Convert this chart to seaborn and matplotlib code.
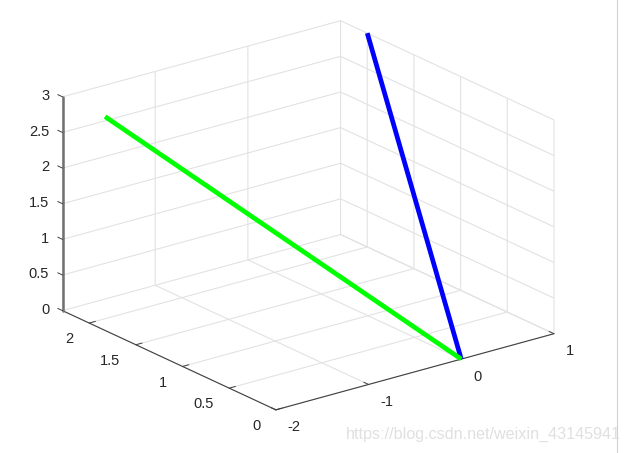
import numpy as np
import matplotlib
matplotlib.use('Agg')
import matplotlib.pyplot as plt
from matplotlib.lines import Line2D
import seaborn as sns

# vectores que salen del origen
blue_x = [0, 1]
blue_y = [0, 2]
blue_z = [0, 3]
green_x = [0, -2]
green_y = [0, 1.83]
green_z = [0, 3]

x_ticks = [-2, -1, 0, 1]
y_ticks = [0, 0.5, 1, 1.5, 2]
z_ticks = [0, 0.5, 1, 1.5, 2, 2.5, 3]
x_labels = ['-2', '-1', '0', '1']
y_labels = ['0', '0.5', '1', '1.5', '2']
z_labels = ['0', '0.5', '1', '1.5', '2', '2.5', '3']
watermark = 'https://blog.csdn.net/weixin_43145941'

sns.set_theme(style='white')
plt.rcParams['font.family'] = ['Liberation Sans', 'DejaVu Sans']

fig = plt.figure(figsize=(6.25, 4.53), dpi=100)
ax = fig.add_axes([-10.4 / 625, 5.1 / 453, 1.0, 1.0], projection='3d')
ax.set_proj_type('ortho')
ax.view_init(elev=20.9, azim=-127.5)
ax.set_box_aspect((1, 1, 0.653), zoom=1.17)

ax.plot(blue_x, blue_y, blue_z, color='#0000ff', linewidth=3.4, solid_capstyle='butt')
ax.plot(green_x, green_y, green_z, color='#00ff00', linewidth=3.4, solid_capstyle='butt')

ax.set_xlim(-2, 1)
ax.set_ylim(0, 2.286)
ax.set_zlim(0, 3)
ax.set_xticks(x_ticks)
ax.set_xticklabels(x_labels, va='center', ha='left')
ax.set_yticks(y_ticks)
ax.set_yticklabels(y_labels, va='center', ha='right')
ax.set_zticks(z_ticks)
ax.set_zticklabels(z_labels, va='center', ha='right')
ax.tick_params(labelsize=10.5, labelcolor='#262626', pad=1.5)
ax.zaxis.set_tick_params(pad=-3.4)

for axis in [ax.xaxis, ax.yaxis, ax.zaxis]:
    axis.set_pane_color((1, 1, 1, 0))
    axis.pane.set_edgecolor('#e2e2e2')
    axis.pane.set_linewidth(0.8)
    axis._axinfo['grid'].update(color='#e2e2e2', linewidth=0.8)
    axis._axinfo['tick'].update(inward_factor=0, outward_factor=0.28,
                                linewidth={True: 0.7, False: 0.4})
    axis.line.set_color('#404040')
    axis.line.set_linewidth(0.8)
ax.tick_params(color='#404040')
ax.zaxis.line.set_color('#707070')
ax.zaxis.line.set_linewidth(1.8)
# las marcas del eje z van hacia +y, como en matlab
ax.zaxis._get_tickdir = lambda position: 1

fig.add_artist(Line2D([617 / 625, 617 / 625], [0, 1], color='#d0d0d0', linewidth=0.8))
fig.text(346 / 625, 1 - 434 / 453, watermark, fontsize=11.6, color='#e0e0e0', va='center')

fig.savefig('out.png', dpi=100)
